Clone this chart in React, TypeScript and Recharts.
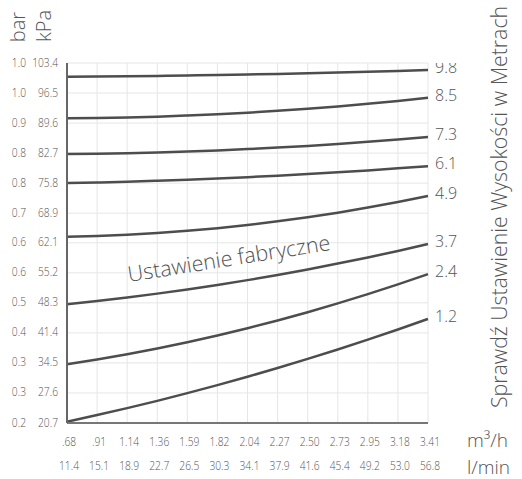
import React from 'react';
import { LineChart, Line, XAxis, YAxis, CartesianGrid } from 'recharts';

const flowIdx = [0, 1, 2, 3, 4, 5, 6, 7, 8, 9, 10, 11, 12];
const flowM3h = ['.68', '.91', '1.14', '1.36', '1.59', '1.82', '2.04', '2.27', '2.50', '2.73', '2.95', '3.18', '3.41'];
const flowLmin = ['11.4', '15.1', '18.9', '22.7', '26.5', '30.3', '34.1', '37.9', '41.6', '45.4', '49.2', '53.0', '56.8'];
const kpaTicks = [103.4, 96.5, 89.6, 82.7, 75.8, 68.9, 62.1, 55.2, 48.3, 41.4, 34.5, 27.6, 20.7];
const barLabels = ['1.0', '1.0', '0.9', '0.8', '0.8', '0.7', '0.6', '0.6', '0.5', '0.4', '0.3', '0.3', '0.2'];

const heightLabels = ['9.8', '8.5', '7.3', '6.1', '4.9', '3.7', '2.4', '1.2'];
const h98 = [100.25, 100.3, 100.36, 100.43, 100.53, 100.63, 100.75, 100.89, 101.04, 101.21, 101.39, 101.59, 101.8];
const h85 = [90.7, 90.77, 90.9, 91.08, 91.33, 91.63, 91.99, 92.41, 92.89, 93.43, 94.03, 94.69, 95.4];
const h73 = [82.5, 82.57, 82.69, 82.85, 83.06, 83.32, 83.62, 83.97, 84.36, 84.8, 85.29, 85.82, 86.4];
const h61 = [75.8, 75.95, 76.12, 76.34, 76.58, 76.86, 77.17, 77.51, 77.88, 78.29, 78.73, 79.2, 79.7];
const h49 = [63.5, 63.67, 63.95, 64.35, 64.85, 65.46, 66.19, 67.02, 67.97, 69.02, 70.19, 71.46, 72.85];
const h37 = [48.0, 48.73, 49.53, 50.42, 51.37, 52.41, 53.52, 54.71, 55.97, 57.32, 58.73, 60.23, 61.8];
const h24 = [34.2, 35.29, 36.5, 37.82, 39.26, 40.81, 42.48, 44.26, 46.16, 48.17, 50.3, 52.54, 54.9];
const h12 = [21.0, 22.52, 24.11, 25.79, 27.56, 29.4, 31.33, 33.33, 35.42, 37.59, 39.85, 42.18, 44.6];

const seriesValues = [h98, h85, h73, h61, h49, h37, h24, h12];
const seriesKeys = ['h98', 'h85', 'h73', 'h61', 'h49', 'h37', 'h24', 'h12'];

const data = flowIdx.map((x, i) => {
  const row: any = { x };
  seriesKeys.forEach((k, s) => {
    row[k] = seriesValues[s][i];
  });
  return row;
});

const FONT = "'Open Sans', sans-serif";
const TEXT = '#555';
const W = 300;

const YTick = (props: any) => {
  const { y, payload } = props;
  const i = kpaTicks.findIndex((v) => Math.abs(v - payload.value) < 0.01);
  return (
    <g>
      <text transform={`translate(26, ${y + 3.5}) scale(0.82, 1)`} textAnchor="end" fontSize={12.5} fill={TEXT} fontFamily={FONT} fontWeight={W}>
        {barLabels[i]}
      </text>
      <text transform={`translate(58, ${y + 3.5}) scale(0.82, 1)`} textAnchor="end" fontSize={12.5} fill={TEXT} fontFamily={FONT} fontWeight={W}>
        {payload.value.toFixed(1)}
      </text>
    </g>
  );
};

const XTick = (props: any) => {
  const { x, payload } = props;
  const i = payload.value;
  return (
    <g>
      <text transform={`translate(${x + 2}, 446) scale(0.82, 1)`} textAnchor="middle" fontSize={12.5} fill={TEXT} fontFamily={FONT} fontWeight={W}>
        {flowM3h[i]}
      </text>
      <text transform={`translate(${x + 2}, 469.5) scale(0.82, 1)`} textAnchor="middle" fontSize={12.5} fill={TEXT} fontFamily={FONT} fontWeight={W}>
        {flowLmin[i]}
      </text>
    </g>
  );
};

const endDot = (label: string) => (props: any) => {
  const { cx, cy, index } = props;
  if (index !== flowIdx.length - 1) return <g key={`d${label}${index}`} />;
  return (
    <text key={`d${label}${index}`} x={cx + 7} y={cy + 3} fontSize={16} fill={TEXT} fontFamily={FONT} fontWeight={W}>
      {label}
    </text>
  );
};

export default function App() {
  return (
    <div style={{ position: 'absolute', left: 0, top: 0, width: 522, height: 479, background: '#fff', fontFamily: FONT }}>
      <LineChart width={522} height={479} data={data} margin={{ top: 63, right: 94, bottom: 0, left: 0 }}>
        <CartesianGrid stroke="#e6e6e4" strokeWidth={1} />
        <XAxis
          dataKey="x"
          type="number"
          domain={[0, 12]}
          ticks={flowIdx}
          height={56}
          tick={<XTick />}
          tickLine={false}
          axisLine={{ stroke: '#777', strokeWidth: 2 }}
        />
        <YAxis
          type="number"
          domain={[20.7, 103.4]}
          ticks={kpaTicks}
          width={67}
          tick={<YTick />}
          tickLine={false}
          axisLine={{ stroke: '#666', strokeWidth: 2 }}
          allowDataOverflow
        />
        {seriesKeys.map((k, s) => (
          <Line
            key={k}
            dataKey={k}
            type="monotone"
            stroke="#4d4d4d"
            strokeWidth={2.5}
            dot={endDot(heightLabels[s])}
            activeDot={false}
            isAnimationActive={false}
          />
        ))}
      </LineChart>
      <svg width={522} height={479} style={{ position: 'absolute', left: 0, top: 0, pointerEvents: 'none' }}>
        <text transform="translate(25, 27) rotate(-90)" textAnchor="middle" fontSize={20} fill={TEXT} fontFamily={FONT} fontWeight={W}>bar</text>
        <text transform="translate(51, 26) rotate(-90)" textAnchor="middle" fontSize={20} fill={TEXT} fontFamily={FONT} fontWeight={W}>kPa</text>
        <text transform="translate(507, 207) rotate(-90)" textAnchor="middle" fontSize={21.3} fill={TEXT} fontFamily={FONT} fontWeight={W}>
          Sprawdź Ustawienie Wysokości w Metrach
        </text>
        <text transform="translate(129, 282) rotate(-9)" textAnchor="start" fontSize={21.5} fill={TEXT} fontFamily={FONT} fontWeight={W}>
          Ustawienie fabryczne
        </text>
        <text x={467} y={447} fontSize={19} fill={TEXT} fontFamily={FONT} fontWeight={W}>m³/h</text>
        <text x={467} y={474} fontSize={19} fill={TEXT} fontFamily={FONT} fontWeight={W}>l/min</text>
      </svg>
    </div>
  );
}
